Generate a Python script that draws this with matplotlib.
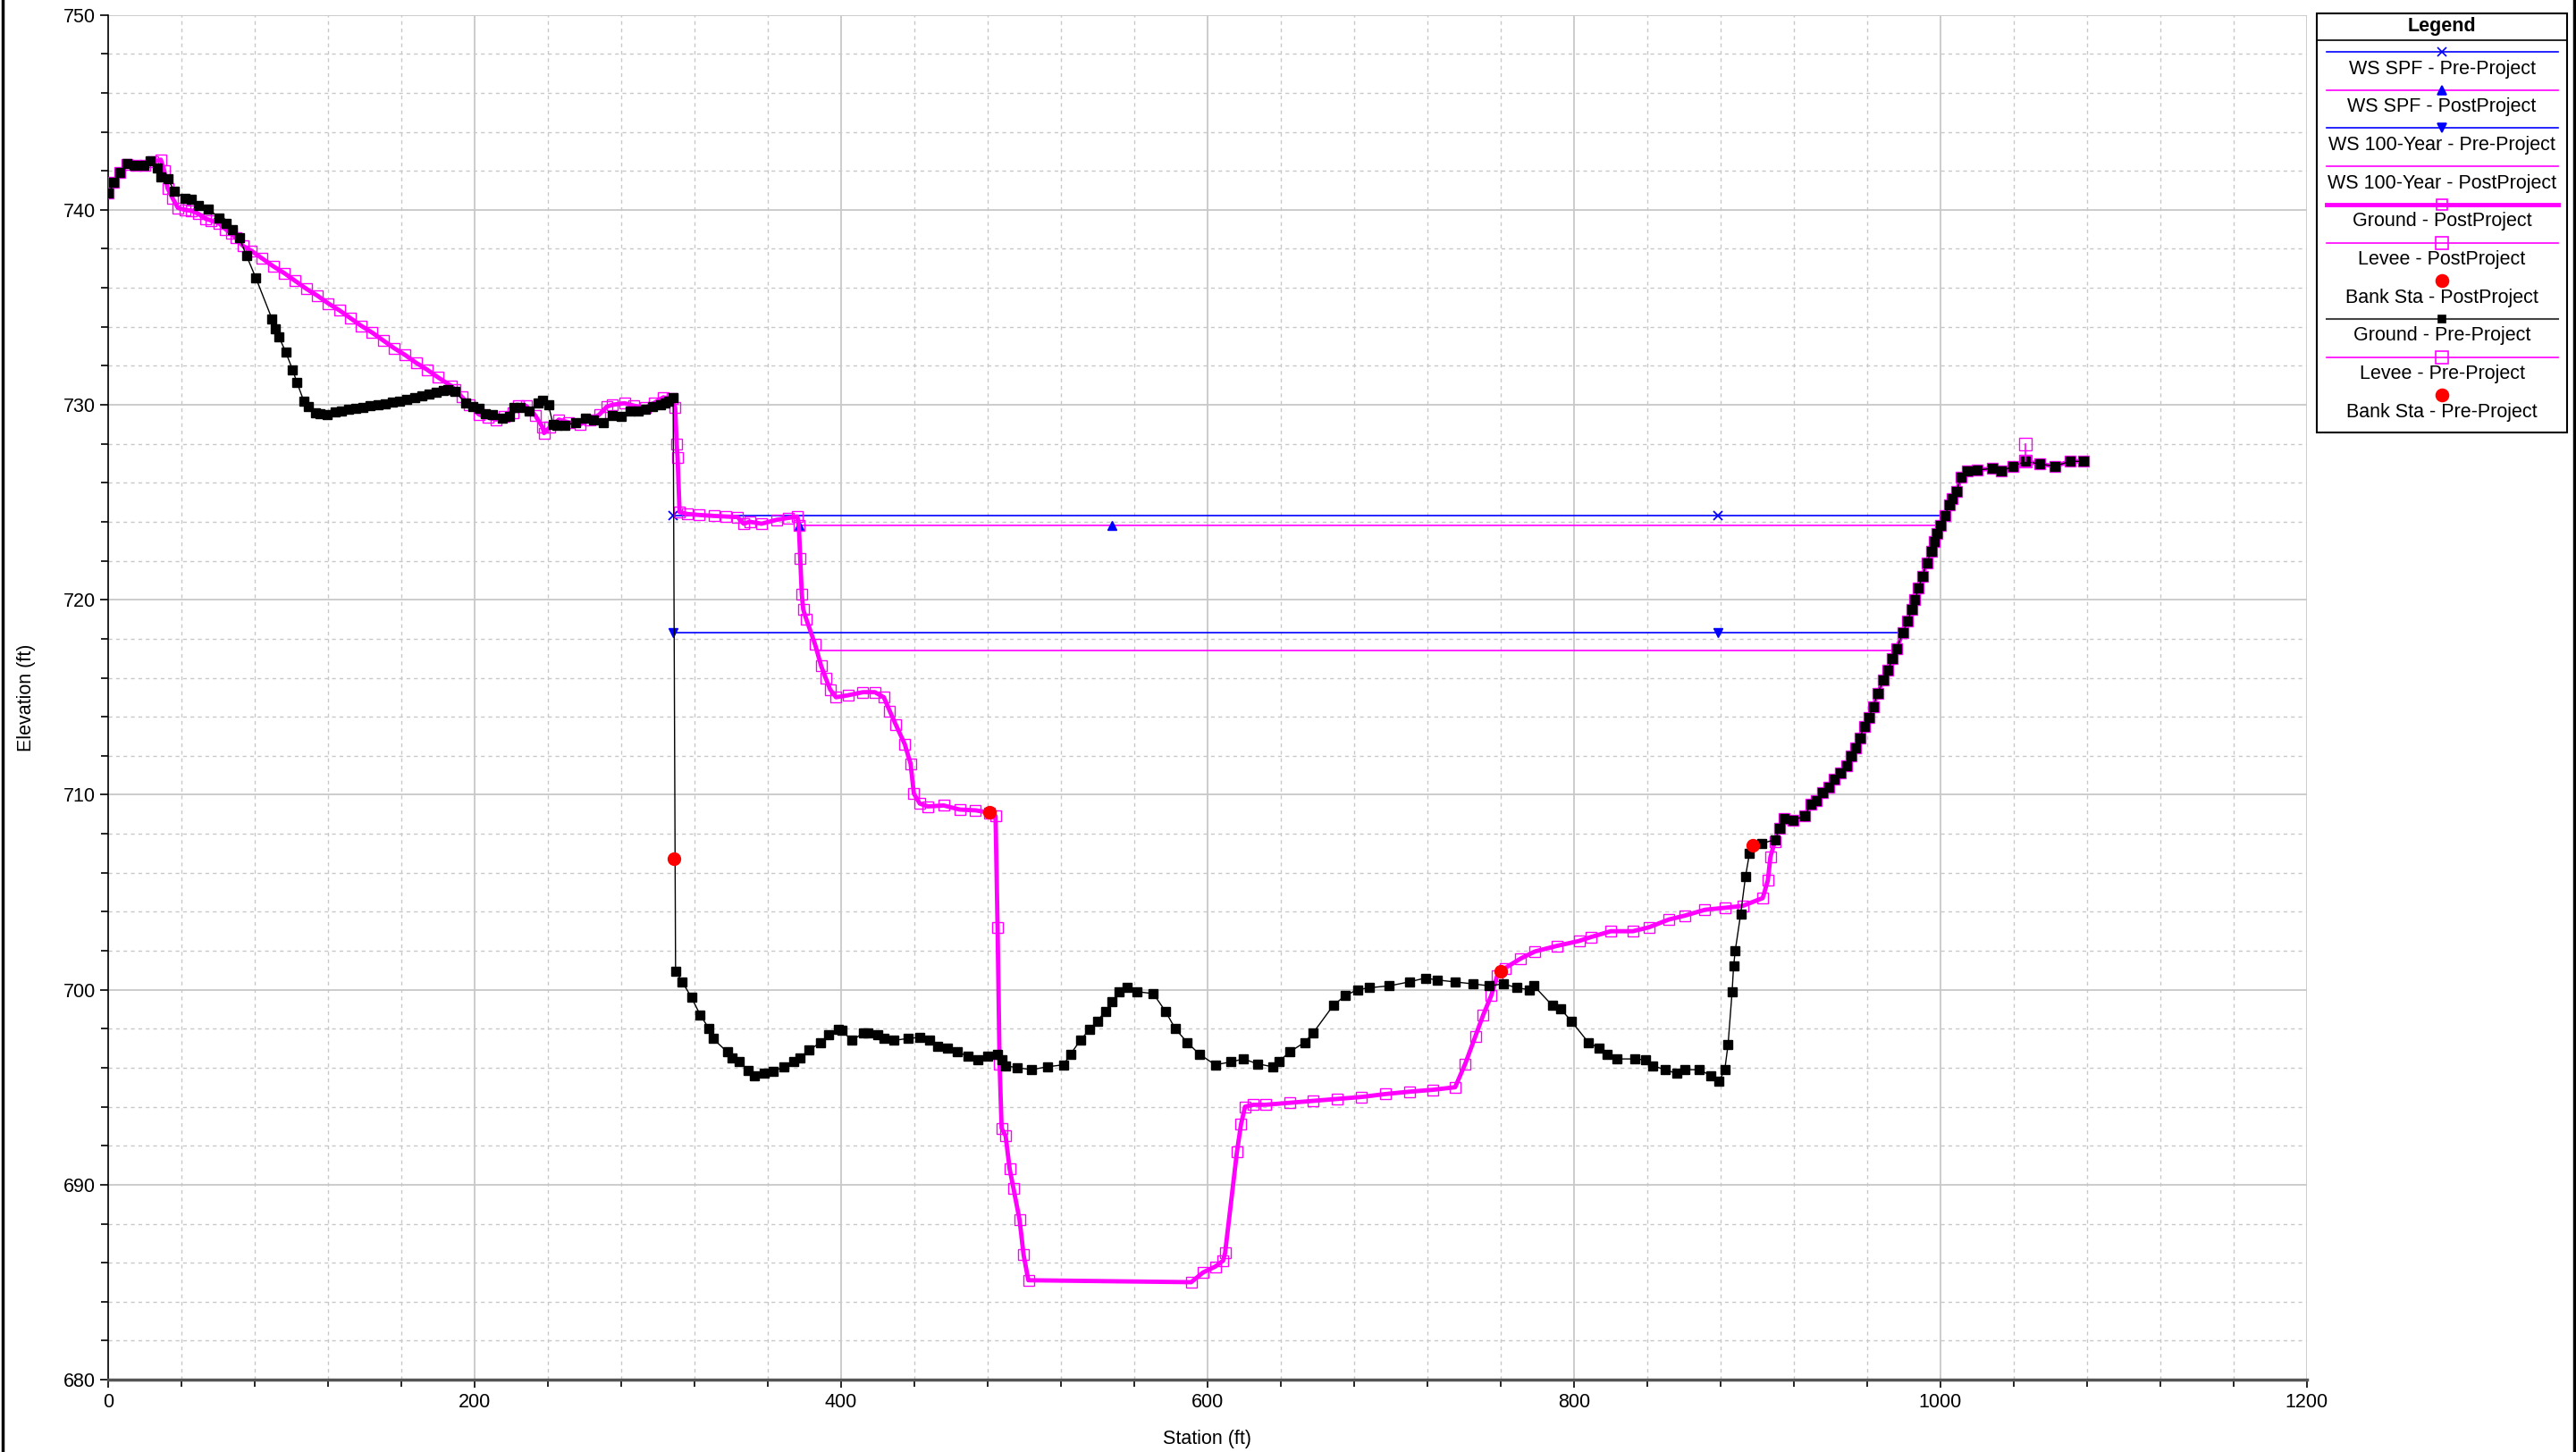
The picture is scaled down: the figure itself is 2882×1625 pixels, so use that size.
import matplotlib
matplotlib.use("Agg")
import numpy as np
import matplotlib.pyplot as plt
from matplotlib.lines import Line2D
from matplotlib.patches import Rectangle
from matplotlib.ticker import MultipleLocator

plt.rcParams['font.family'] = ['Liberation Sans', 'DejaVu Sans']

# Ground - Pre-Project (station, elevation)
pre_ground = [
    (0, 740.85), (3, 741.4), (6.2, 741.9), (9.9, 742.37), (14, 742.3), (19.2, 742.27), (23, 742.5),
    (26.7, 742.16), (28.6, 741.67), (32.3, 741.6), (36.1, 740.94), (41.7, 740.6), (45.4, 740.53),
    (49.1, 740.2), (54.7, 740.03), (60.4, 739.6), (64.1, 739.3), (67.8, 738.98), (71.5, 738.56),
    (75.3, 737.66), (80.5, 736.5), (89.3, 734.4), (91, 733.9), (93, 733.5), (96.8, 732.7),
    (100.5, 731.8), (102.9, 731.15), (106.6, 730.2), (108.9, 729.9), (113, 729.6), (115.4, 729.56),
    (119.2, 729.48), (123.8, 729.64), (127, 729.7), (131, 729.77), (135, 729.82), (139, 729.88),
    (143, 729.95), (147, 730.0), (151, 730.06), (155, 730.13), (159, 730.2), (163, 730.28),
    (167, 730.36), (171, 730.45), (175, 730.55), (179, 730.65), (183, 730.74), (185.5, 730.8),
    (189.2, 730.7), (194.8, 730.1), (199, 729.9), (202.3, 729.8), (206, 729.55), (209.7, 729.5),
    (215, 729.3), (219, 729.4), (221.5, 729.85), (225, 729.85), (229.7, 729.7), (234.5, 730.08),
    (237, 730.23), (240.2, 730.0), (242.7, 729.0), (245, 728.95), (249.2, 728.93), (255, 729.1),
    (260.6, 729.3), (265, 729.2), (270.3, 729.1), (275.2, 729.47), (280.1, 729.4), (285, 729.7),
    (289, 729.7), (293.1, 729.77), (297, 729.9), (301.2, 730.0), (304, 730.1), (306, 730.2),
    (308.3, 730.35),
    (309.6, 700.96), (313.3, 700.4), (318.3, 699.6), (323.1, 698.7), (327.9, 698.0), (330, 697.5),
    (337.9, 696.8), (340.5, 696.5), (344.4, 696.3), (349.2, 695.85), (352.5, 695.6), (358, 695.7),
    (362.7, 695.8), (368.8, 696.05), (374.3, 696.3), (377.6, 696.5), (382.4, 696.9), (388.9, 697.3),
    (393.2, 697.7), (398.3, 697.95), (400.4, 697.9), (405.9, 697.4), (412.4, 697.8), (414.6, 697.8),
    (420, 697.7), (423.3, 697.5), (428.8, 697.4), (436.4, 697.5), (442.9, 697.55), (448.4, 697.4),
    (452.7, 697.1), (458.2, 697.0), (463.6, 696.8), (469.1, 696.6), (474.5, 696.4), (480, 696.6),
    (485.4, 696.7), (487.6, 696.4), (489.8, 696.1), (496.3, 696.0), (503.9, 695.9), (512.7, 696.05),
    (521.4, 696.15), (525.3, 696.7), (530.5, 697.4), (535.5, 697.95), (539.9, 698.4), (544.3, 698.9),
    (548, 699.4), (551.9, 699.9), (556.2, 700.1), (561.7, 699.9), (570.4, 699.8), (577, 698.9),
    (582.4, 698.0), (588.9, 697.3), (595.5, 696.7), (604.2, 696.15), (612.9, 696.3), (619.6, 696.45),
    (627.3, 696.2), (635.5, 696.05), (639.3, 696.34), (644.7, 696.8), (653, 697.3), (657.8, 697.8),
    (668.7, 699.2), (675.2, 699.7), (681.8, 700.0), (688.3, 700.1), (699.3, 700.2), (710.1, 700.4),
    (718.9, 700.6), (725.4, 700.5), (735.2, 700.4), (745, 700.3), (753.8, 700.2), (761.4, 700.3),
    (769, 700.1), (775.6, 700.0), (778.2, 700.2), (788.2, 699.2), (793, 699.0), (798.5, 698.4),
    (807.9, 697.3), (813.8, 697.0), (818.1, 696.7), (823.6, 696.45), (833.4, 696.45), (838.9, 696.4),
    (843.2, 696.1), (849.7, 695.9), (856.3, 695.7), (860.6, 695.9), (868.3, 695.9), (874.8, 695.6),
    (879.2, 695.3), (882.4, 695.9), (884.2, 697.2), (886.4, 699.9), (887.2, 701.2), (888.1, 702.0),
    (891.1, 703.9), (893.7, 705.8), (895.9, 707.0), (902.4, 707.5), (910, 707.7), (912.1, 708.3),
    (914.6, 708.8), (919.5, 708.7), (926, 708.9), (929.2, 709.5), (932.5, 709.7), (935.7, 710.1),
    (939, 710.4), (942.2, 710.8), (945.5, 711.1), (948.7, 711.5), (951.2, 712.0), (953.6, 712.4),
    (956.1, 712.9), (958.5, 713.5), (961, 713.95), (963.4, 714.5), (965.8, 715.2), (969.1, 715.9),
    (971.5, 716.4), (974, 717.0), (976.1, 717.5), (979.7, 718.3), (982.1, 718.9), (984.5, 719.5),
    (986.2, 720.0), (988.1, 720.6), (990.2, 721.2), (992.7, 721.9), (995.1, 722.5), (996.7, 723.0),
    (998.4, 723.4), (1000, 723.8), (1002.4, 724.3), (1004.9, 724.85), (1006.5, 725.2), (1008.9, 725.55),
    (1011.4, 726.3), (1014.6, 726.6), (1020.3, 726.66), (1028.5, 726.73), (1033.4, 726.6),
    (1039.9, 726.85), (1046.4, 727.1), (1054.5, 726.96), (1062.6, 726.85), (1070.8, 727.1), (1078.1, 727.1),
]

# Ground - PostProject, up to where it rejoins the pre-project ground
post_ground = [
    (0, 740.85), (3, 741.4), (6, 741.9), (10, 742.35), (15, 742.3), (20, 742.3), (24, 742.45),
    (28.6, 742.57), (30.5, 742.0), (32.3, 741.1), (35, 740.6), (37.9, 740.1), (41.7, 740.0),
    (45.4, 739.95), (49, 739.8), (52.9, 739.55), (56, 739.45), (60.4, 739.3), (64, 739.0), (67, 738.8),
    (69.6, 738.56), (73.4, 738.15), (78, 737.9), (84, 737.5), (90, 737.1), (96, 736.75), (102, 736.35),
    (108, 735.95), (114, 735.6), (120, 735.2), (126, 734.85), (132, 734.45), (138, 734.05), (144, 733.7),
    (150, 733.3), (156, 732.9), (162, 732.55), (168, 732.15), (174, 731.8), (180, 731.4), (187.4, 730.95),
    (189, 730.8), (193, 730.4), (197, 730.0), (202.3, 729.5), (207, 729.35), (211.6, 729.24), (216, 729.4),
    (220.9, 729.6), (224, 729.95), (228, 729.95), (232.9, 729.47), (237, 728.85), (237.8, 728.55),
    (241, 728.85), (245.9, 729.24), (251, 729.1), (257.3, 729.0), (263, 729.2), (268, 729.5), (272, 729.9),
    (275.2, 730.0), (281.7, 730.08), (287, 729.95), (293.1, 729.85), (298, 730.1), (302.9, 730.38),
    (307.8, 730.3), (309.4, 729.85), (310.2, 728.0), (310.7, 727.3), (311.8, 724.5), (315.9, 724.4),
    (322.4, 724.35), (330.5, 724.3), (337, 724.27), (343.5, 724.24), (346.8, 723.9), (350, 724.0),
    (356.6, 723.9), (364.7, 724.1), (371.2, 724.2), (376.1, 724.27), (376.9, 723.8), (377.7, 722.1),
    (378.5, 720.3), (379.3, 719.5), (381, 719.0), (385.8, 717.7), (389.1, 716.6), (391.5, 716.0),
    (394, 715.4), (397.2, 715.0), (403.7, 715.1), (411.9, 715.26), (418.4, 715.26), (423.3, 715.0),
    (426.5, 714.3), (429.8, 713.6), (434.7, 712.6), (437.9, 711.6), (439.7, 710.06), (442.9, 709.55),
    (447.3, 709.4), (456, 709.45), (464.7, 709.24), (473.4, 709.2), (481, 709.08), (484.3, 708.9),
    (485.4, 703.2), (486.5, 696.2), (487.6, 692.9), (489.8, 692.5), (492, 690.8), (494.1, 689.8),
    (497.4, 688.2), (499.6, 686.4), (502.2, 685.1), (591.1, 685.0), (597.6, 685.5), (604.2, 685.8),
    (608.5, 686.1), (609.6, 686.5), (616.1, 691.7), (618.3, 693.1), (620.5, 694.0), (625.1, 694.1),
    (631.6, 694.1), (644.7, 694.2), (657.8, 694.3), (670.9, 694.4), (684, 694.5), (697.1, 694.65),
    (710.2, 694.77), (723.2, 694.87), (735.2, 695.0), (740.7, 696.2), (746.2, 697.6), (750.5, 698.7),
    (754.9, 699.7), (758.1, 700.7), (762.3, 701.1), (771, 701.6), (778.7, 701.96), (790.8, 702.25),
    (802.8, 702.5), (809.3, 702.7), (820.2, 703.0), (832.2, 703.0), (840.9, 703.2), (851.8, 703.6),
    (860.6, 703.8), (871.5, 704.1), (882.4, 704.2), (892.2, 704.3), (903.1, 704.7), (905.9, 705.6),
    (907.3, 706.8), (909.7, 707.6),
]
rejoin_sta = 912

# water surfaces
ws_spf_pre_sta = [308.3, 878.5, 1002.4]
ws_spf_pre_elev = 724.3
ws_spf_post_sta = [377.0, 548.0, 999.5]
ws_spf_post_elev = 723.8
ws_100_pre_sta = [308.3, 878.5, 979.7]
ws_100_pre_elev = 718.3
ws_100_post_sta = [387.5, 973.2]
ws_100_post_elev = 717.4

# levee and bank stations
levee_sta = [1046.4, 1046.4]
levee_elev = [727.1, 728.0]
bank_pre_sta = [308.5, 897.5]
bank_pre_elev = [706.7, 707.4]
bank_post_sta = [481.0, 759.9]
bank_post_elev = [709.1, 700.95]

legend_labels = ['WS SPF - Pre-Project', 'WS SPF - PostProject', 'WS 100-Year - Pre-Project',
                 'WS 100-Year - PostProject', 'Ground - PostProject', 'Levee - PostProject',
                 'Bank Sta - PostProject', 'Ground - Pre-Project', 'Levee - Pre-Project',
                 'Bank Sta - Pre-Project']

BLUE = '#0000ff'
MAG = '#ff00ff'
RED = '#ff0000'

pre = np.array(pre_ground)
post = np.array(post_ground)
post = np.vstack([post, pre[pre[:, 0] >= rejoin_sta]])

fig = plt.figure(figsize=(28.82, 16.25), dpi=100)
ax = fig.add_axes([0.0421, 0.0498, 0.8533, 0.9400])

# water surfaces
ax.plot(ws_spf_pre_sta, [ws_spf_pre_elev] * len(ws_spf_pre_sta), color=BLUE, lw=1.2,
        marker='x', ms=7, mew=1.3, zorder=3)
ax.plot(ws_spf_post_sta, [ws_spf_post_elev] * len(ws_spf_post_sta), color=MAG, lw=1.2, zorder=3)
ax.plot(ws_spf_post_sta[:2], [ws_spf_post_elev] * 2, ls='none', marker='^', ms=7,
        color=BLUE, zorder=3)
ax.plot(ws_100_pre_sta, [ws_100_pre_elev] * len(ws_100_pre_sta), color=BLUE, lw=1.2,
        marker='v', ms=7, zorder=3)
ax.plot(ws_100_post_sta, [ws_100_post_elev] * len(ws_100_post_sta), color=MAG, lw=1.2, zorder=3)

# ground
ax.plot(post[:, 0], post[:, 1], color=MAG, lw=3.5, marker='s', ms=8.5, mfc='none',
        mec=MAG, mew=1.0, zorder=4)
ax.plot(pre[:, 0], pre[:, 1], color='black', lw=1.0, marker='s', ms=6.5, mfc='black',
        mec='black', zorder=5)

# levees
ax.plot(levee_sta, levee_elev, color=MAG, lw=1.2, marker='s', ms=10, mfc='none',
        mec=MAG, mew=1.0, zorder=6)

# bank stations
ax.plot(bank_post_sta, bank_post_elev, ls='none', marker='o', ms=10, color=RED, zorder=7)
ax.plot(bank_pre_sta, bank_pre_elev, ls='none', marker='o', ms=10, color=RED, zorder=7)

ax.set_xlim(0, 1200)
ax.set_ylim(680, 750)
ax.xaxis.set_major_locator(MultipleLocator(200))
ax.xaxis.set_minor_locator(MultipleLocator(40))
ax.yaxis.set_major_locator(MultipleLocator(10))
ax.yaxis.set_minor_locator(MultipleLocator(2))
ax.grid(which='major', color='#c8c8c8', lw=1.3, ls='-', zorder=0)
ax.grid(which='minor', color='#c8c8c8', lw=1.0, ls=(0, (3, 3)), zorder=0)
ax.set_axisbelow(True)
ax.tick_params(which='both', direction='out', length=6.5, width=1.2, labelsize=15.5, pad=4)
ax.tick_params(which='minor', length=5.5)
for s in ['top', 'right']:
    ax.spines[s].set_visible(False)
ax.spines['left'].set_color('black')
ax.spines['left'].set_linewidth(1.2)
ax.spines['bottom'].set_color('#555555')
ax.spines['bottom'].set_linewidth(2.5)
ax.set_xlabel('Station (ft)', fontsize=15.5, labelpad=15)
ax.set_ylabel('Elevation (ft)', fontsize=15.5, labelpad=22)

# figure frame edges
fig.add_artist(Line2D([0.001, 0.001], [0, 1], color='black', lw=2.5, transform=fig.transFigure))
fig.add_artist(Line2D([0.9993, 0.9993], [0, 1], color='black', lw=2.5, transform=fig.transFigure))

# legend box drawn in pixel coordinates
lx0, lx1, ly0, ly1 = 2592, 2872, 15, 484
lax = fig.add_axes([lx0 / 2882, 1 - ly1 / 1625, (lx1 - lx0) / 2882, (ly1 - ly0) / 1625])
lax.set_xlim(lx0, lx1)
lax.set_ylim(ly1, ly0)
lax.axis('off')
lax.add_patch(Rectangle((lx0, ly0), lx1 - lx0, ly1 - ly0, facecolor='white', edgecolor='black',
                        lw=1.5, clip_on=False))
lax.plot([lx0, lx1], [45, 45], color='black', lw=1.2, clip_on=False)
cx = (lx0 + lx1) / 2
lax.text(cx, 29, 'Legend', ha='center', va='center', fontsize=15.5, fontweight='bold')

samples = [
    dict(color=BLUE, lw=1.2, marker='x', ms=7, mfc=BLUE, mec=BLUE),
    dict(color=MAG, lw=1.2, marker='^', ms=7, mfc=BLUE, mec=BLUE),
    dict(color=BLUE, lw=1.2, marker='v', ms=7, mfc=BLUE, mec=BLUE),
    dict(color=MAG, lw=1.2, marker=None),
    dict(color=MAG, lw=3.5, marker='s', ms=8, mfc='none', mec=MAG),
    dict(color=MAG, lw=1.2, marker='s', ms=10, mfc='none', mec=MAG),
    dict(color=RED, lw=0, marker='o', ms=10, mfc=RED, mec=RED),
    dict(color='#444444', lw=1.5, marker='s', ms=6, mfc='black', mec='black'),
    dict(color=MAG, lw=1.2, marker='s', ms=10, mfc='none', mec=MAG),
    dict(color=RED, lw=0, marker='o', ms=10, mfc=RED, mec=RED),
]
for i, (lab, st) in enumerate(zip(legend_labels, samples)):
    y_line = 58 + i * 42.7
    y_text = y_line + 19
    if st['lw'] > 0:
        lax.plot([2603, 2862], [y_line, y_line], color=st['color'], lw=st['lw'], clip_on=False)
    if st['marker']:
        lax.plot([cx], [y_line], ls='none', marker=st['marker'], ms=st['ms'], mfc=st['mfc'],
                 mec=st['mec'], mew=1.2, clip_on=False)
    lax.text(cx, y_text, lab, ha='center', va='center', fontsize=15.5)

fig.savefig('out.png', dpi=100)
